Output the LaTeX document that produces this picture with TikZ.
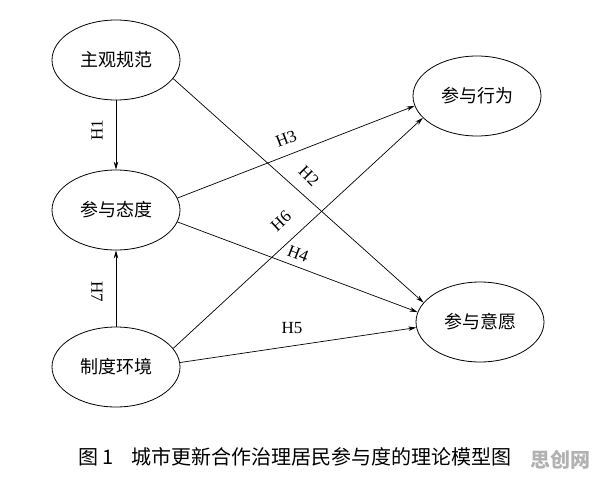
\documentclass[tikz,border=0pt]{standalone}
\usepackage{fontspec}
\setmainfont{Liberation Serif}
\newfontfamily\cjk{Noto Sans CJK SC}
\usetikzlibrary{arrows.meta,shapes.geometric}
\tikzset{
  factor/.style={draw, ellipse, line width=0.8pt, minimum width=128pt, minimum height=80pt,
    inner sep=0pt, font=\cjk\fontsize{18}{18}\selectfont},
  link/.style={line width=0.7pt, -{Stealth[length=8pt,width=4.5pt]}},
  hyp/.style={inner sep=0pt, font=\fontsize{17}{17}\selectfont}
}
\begin{document}
\begin{tikzpicture}[x=1pt,y=-1pt]
        \useasboundingbox (0,0) rectangle (596,479);

        % Draw factors
        \node[factor] (norm) at (116,60) {主观规范};
        \node[factor] (attit) at (116,210) {参与态度};
        \node[factor] (inst) at (116,367) {制度环境};
        \node[factor] (behav) at (477,96) {参与行为};
        \node[factor] (intent) at (480,322) {参与意愿};

        % Draw paths
        \draw[link] (norm.south) -- (attit.north);
        \draw[link] (inst.north) -- (attit.south);
        \draw[link] (norm.-18) -- (intent.161);
        \draw[link] (attit.11) -- (behav.189);
        \draw[link] (attit.-11) -- (intent.171);
        \draw[link] (inst.18) -- (behav.202);
        \draw[link] (inst.4) -- (intent.185);

        % Mark hypotheses
        \node[hyp, rotate=90] (h1) at (97,130) {H1};
        \node[hyp, rotate=-45] (h2) at (309,176) {H2};
        \node[hyp, rotate=21] (h3) at (286,139) {H3};
        \node[hyp, rotate=-21] (h4) at (298,254) {H4};
        \node[hyp] (h5) at (292,328) {H5};
        \node[hyp, rotate=43] (h6) at (281,221) {H6};
        \node[hyp, rotate=-90] (h7) at (97,292) {H7};

        % Caption
        \node[anchor=west, inner sep=0pt, font=\cjk\fontsize{20}{20}\selectfont] (cap) at (78,457)
            {图 1\hspace{18pt}城市更新合作治理居民参与度的理论模型图};
        \node[anchor=east, inner sep=0pt, text=gray!60, font=\cjk\bfseries\fontsize{20}{20}\selectfont] (mark) at (591,460) {思创网};
    \end{tikzpicture}
\end{document}
